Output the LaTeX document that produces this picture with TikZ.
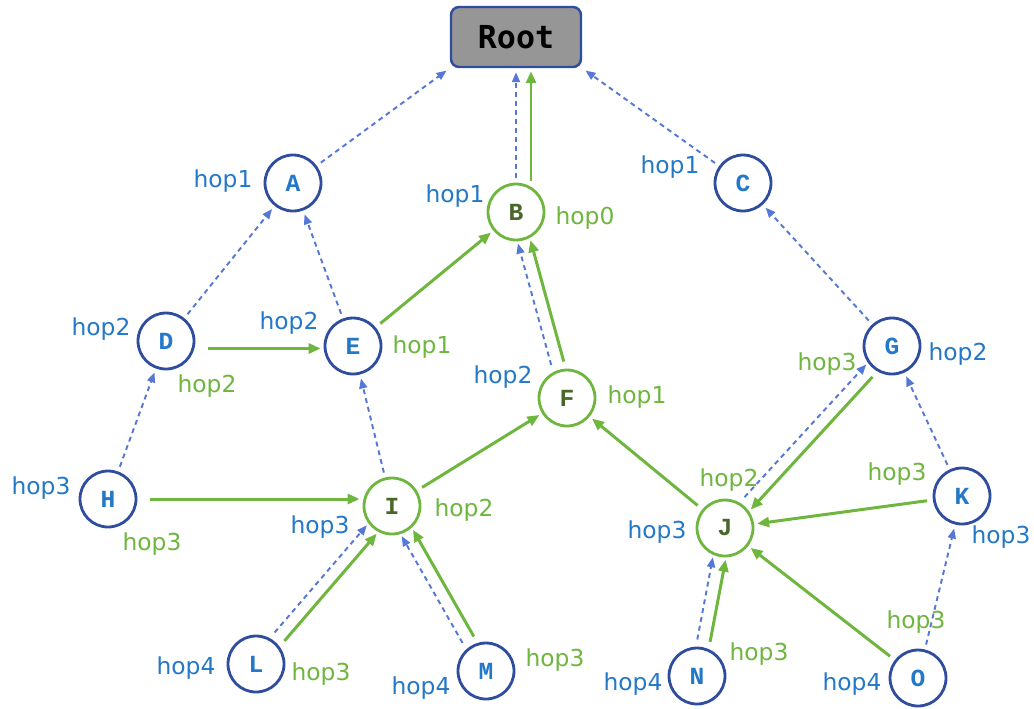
\documentclass[tikz,border=0pt]{standalone}
\usepackage{fontspec}
\usetikzlibrary{calc,arrows.meta}
\newfontfamily\hopfont{DejaVu Sans}
\newfontfamily\buchstabe{Liberation Mono}
\newfontfamily\wurzelfont{DejaVu Sans Mono}
\definecolor{kreisblau}{RGB}{47,77,158}
\definecolor{textblau}{RGB}{35,120,200}
\definecolor{pfeilblau}{RGB}{85,120,215}
\definecolor{gruen}{RGB}{110,182,62}
\definecolor{dunkelgruen}{RGB}{72,104,42}
\definecolor{wurzelgrau}{RGB}{150,150,150}
\begin{document}
\begin{tikzpicture}[x=0.02cm,y=-0.02cm,
    knoten/.style={circle,draw=kreisblau,line width=1.6pt,minimum size=1.12cm,inner sep=0pt,
        text=textblau,font=\buchstabe\bfseries\fontsize{14}{14}\selectfont},
    gknoten/.style={knoten,draw=gruen,text=dunkelgruen},
    blaupfeil/.style={draw=pfeilblau,line width=1.1pt,dash pattern=on 2.8pt off 2.3pt,
        -{Triangle[length=0.2cm,width=0.16cm]},shorten <=0.1cm,shorten >=0.08cm},
    gruenpfeil/.style={draw=gruen,line width=1.7pt,
        -{Triangle[length=0.24cm,width=0.2cm]},shorten <=0.12cm,shorten >=0.06cm},
    paar/.style={shorten <=0.72cm,shorten >=0.62cm},
    linksweg/.style={to path={($(\tikztostart.center)!#1!90:(\tikztotarget.center)$)
        -- ($(\tikztotarget.center)!#1!-90:(\tikztostart.center)$)}},
    rechtsweg/.style={to path={($(\tikztostart.center)!#1!-90:(\tikztotarget.center)$)
        -- ($(\tikztotarget.center)!#1!90:(\tikztostart.center)$)}},
    blaulbl/.style={text=textblau,font=\hopfont\fontsize{13.3}{16}\selectfont,inner sep=0pt},
    gruenlbl/.style={blaulbl,text=gruen}]

    % Rahmen
    \useasboundingbox (0,0) rectangle (1034,708);

    % Wurzel
    \node[draw=kreisblau,line width=1.4pt,fill=wurzelgrau,rounded corners=0.16cm,
        minimum width=2.6cm,minimum height=1.2cm,
        font=\wurzelfont\bfseries\fontsize{18}{18}\selectfont] (Root) at (516,37) {Root};

    % Knoten
    \foreach \n/\x/\y in {A/293/183, C/743/183, D/166/341, E/353/346, G/892/346,
        H/108/499, K/962/496, L/256/664, M/486/671, N/697/676, O/918/678}
        \node[knoten] (\n) at (\x,\y) {\n};
    \foreach \n/\x/\y in {B/516/212, F/567/398, I/392/506, J/725/528}
        \node[gknoten] (\n) at (\x,\y) {\n};

    % Beschriftungen
    \foreach \x/\y/\t [count=\i] in {223/181/hop1, 455/196/hop1, 670/167/hop1,
        101/329/hop2, 289/323/hop2, 503/377/hop2, 958/354/hop2, 41/488/hop3,
        320/527/hop3, 657/532/hop3, 1001/537/hop3, 186/668/hop4, 421/688/hop4,
        633/684/hop4, 852/684/hop4}
        \node[blaulbl] (bl\i) at (\x,\y) {\t};
    \foreach \x/\y/\t [count=\i] in {585/218/hop0, 207/386/hop2, 422/347/hop1,
        637/397/hop1, 827/364/hop3, 152/544/hop3, 464/510/hop2, 729/480/hop2,
        897/474/hop3, 321/674/hop3, 555/660/hop3, 759/654/hop3, 916/622/hop3}
        \node[gruenlbl] (gl\i) at (\x,\y) {\t};

    % Elternzeiger (gestrichelt)
    \draw[blaupfeil] (A) -- (Root.south west);
    \draw[blaupfeil] (C) -- (Root.south east);
    \draw[blaupfeil] (B) -- (Root);
    \foreach \a/\b in {D/A, E/A, H/D, I/E, G/C, K/G, O/K}
        \draw[blaupfeil] (\a) -- (\b);
    \foreach \a/\b in {F/B, J/G, L/I, M/I, N/J}
        \draw[blaupfeil,paar] (\a) to[linksweg=0.13cm] (\b);

    % Weiterleitung (gruen)
    \draw[gruenpfeil,shorten <=0.04cm] ([xshift=0.3cm]B.north) -- ([xshift=0.3cm]Root.south);
    \draw[gruenpfeil,shorten <=0.26cm] ([yshift=-0.05cm]D.east |- E.west) -- ([yshift=-0.05cm]E.west);
    \draw[gruenpfeil,shorten <=0.26cm] (H.east) -- (H.east -| I.west);
    \foreach \a/\b in {E/B, I/F, J/F, K/J, O/J}
        \draw[gruenpfeil] (\a) -- (\b);
    \foreach \a/\b in {F/B, L/I, M/I, N/J}
        \draw[gruenpfeil,paar] (\a) to[rechtsweg=0.13cm] (\b);
    \draw[gruenpfeil,paar] (G) to[linksweg=0.13cm] (J);
\end{tikzpicture}
\end{document}
